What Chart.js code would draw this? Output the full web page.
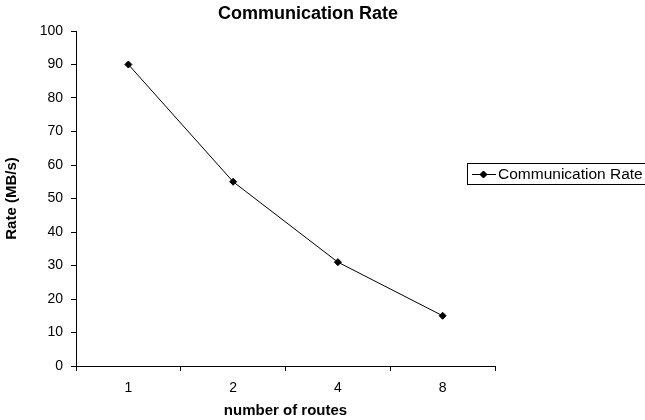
<!DOCTYPE html>
<html>
<head>
<meta charset="utf-8">
<script src="https://cdn.jsdelivr.net/npm/chart.js@4"></script>
<style>
  html, body { margin: 0; padding: 0; background: #fff; }
  #wrap { width: 645px; height: 420px; position: relative; }
</style>
</head>
<body>
<div id="wrap"><canvas id="rateChart"></canvas></div>
<script>
// --- date ---
const routes = ['1', '2', '4', '8'];
const rates = [90, 55, 31, 15];
const yTicks = [0, 10, 20, 30, 40, 50, 60, 70, 80, 90, 100];

const FONT = '"Liberation Sans", Arial, sans-serif';

// titlu si legenda desenate manual (pozitii ca in original)
const extras = {
    id: 'extras',
    afterDraw(chart) {
        const ctx = chart.ctx;
        ctx.save();
        ctx.fillStyle = '#000';
        ctx.font = 'bold 18px ' + FONT;
        ctx.textAlign = 'center';
        ctx.textBaseline = 'middle';
        ctx.fillText('Communication Rate', 308, 14);

        // legenda
        ctx.strokeStyle = '#000';
        ctx.lineWidth = 1;
        ctx.strokeRect(467.5, 163.5, 200, 21);
        ctx.beginPath();
        ctx.moveTo(472, 174.5);
        ctx.lineTo(496, 174.5);
        ctx.stroke();
        Chart.helpers.drawPoint(ctx, { pointStyle: 'rectRot', radius: 3.5, borderWidth: 1 }, 483.5, 174.5);
        ctx.fill();
        ctx.font = '15.5px ' + FONT;
        ctx.textAlign = 'left';
        ctx.fillText(chart.data.datasets[0].label, 498, 175);
        ctx.restore();
    }
};

new Chart(document.getElementById('rateChart'), {
    type: 'line',
    data: {
        labels: routes,
        datasets: [{
            label: 'Communication Rate',
            data: rates,
            borderColor: '#000',
            backgroundColor: '#000',
            borderWidth: 1,
            pointStyle: 'rectRot',
            pointRadius: 3.5,
            pointBorderWidth: 1,
            pointBackgroundColor: '#000',
            tension: 0
        }]
    },
    options: {
        responsive: true,
        maintainAspectRatio: false,
        animation: false,
        layout: { padding: { top: 31, right: 150, left: 0, bottom: 0 } },
        plugins: { legend: { display: false }, title: { display: false }, tooltip: { enabled: false } },
        scales: {
            x: {
                offset: true,
                grid: { offset: true, drawOnChartArea: false, drawTicks: true, tickLength: 5, color: '#000' },
                border: { display: true, color: '#000', width: 1 },
                ticks: { color: '#000', font: { family: FONT, size: 14 }, padding: 9 },
                title: { display: true, text: 'number of routes', color: '#000', font: { family: FONT, size: 15, weight: 'bold' }, padding: { top: 0, bottom: 0 } },
                afterFit(scale) { scale.height = 54; }
            },
            y: {
                min: 0, max: 100,
                afterBuildTicks(scale) { scale.ticks = yTicks.map(v => ({ value: v })); },
                grid: { drawOnChartArea: false, drawTicks: true, tickLength: 5, color: '#000' },
                border: { display: true, color: '#000', width: 1 },
                ticks: { color: '#000', font: { family: FONT, size: 14 }, padding: 8 },
                title: { display: true, text: 'Rate (MB/s)', color: '#000', font: { family: FONT, size: 15, weight: 'bold' }, padding: { top: 3, bottom: 0 } },
                afterFit(scale) { scale.width = 76; }
            }
        }
    },
    plugins: [extras]
});
</script>
</body>
</html>
